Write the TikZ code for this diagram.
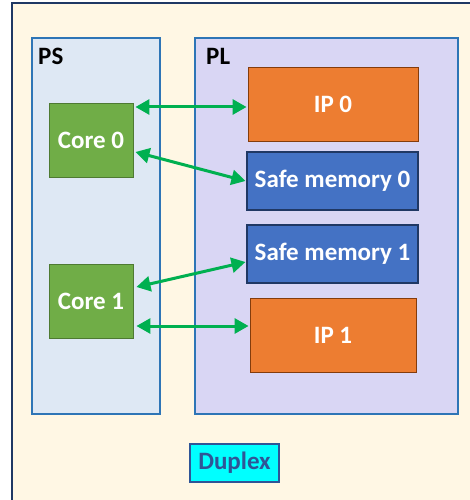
\documentclass[tikz,border=0pt]{standalone}
\usepackage{fontspec}
\setmainfont{Carlito}
\usetikzlibrary{arrows.meta}
\definecolor{bgcream}{HTML}{FFF7E4}
\definecolor{framenavy}{HTML}{1F3864}
\definecolor{psfill}{HTML}{DEE8F4}
\definecolor{plfill}{HTML}{D9D6F4}
\definecolor{boxblue}{HTML}{2E75B6}
\definecolor{coregreen}{HTML}{70AD47}
\definecolor{coreedge}{HTML}{4E7A32}
\definecolor{iporange}{HTML}{ED7D31}
\definecolor{ipedge}{HTML}{843C0C}
\definecolor{smblue}{HTML}{4472C4}
\definecolor{smedge}{HTML}{203864}
\definecolor{arrgreen}{HTML}{00B050}
\definecolor{dupedge}{HTML}{2F5597}
\definecolor{dupfill}{HTML}{00FFFF}
\tikzset{
  every node/.style={font=\bfseries\fontsize{25}{30}\selectfont, inner sep=0pt},
  region/.style={draw=boxblue, line width=1.6pt},
  corebox/.style={fill=coregreen, draw=coreedge, line width=0.9pt, text=white, minimum width=84pt, minimum height=74pt},
  ipbox/.style={fill=iporange, draw=ipedge, line width=0.9pt, text=white, minimum height=74pt},
  smbox/.style={fill=smblue, draw=smedge, line width=1.1pt, text=white, minimum width=171pt, minimum height=58pt},
  arr/.style={draw=arrgreen, line width=3pt, {Triangle[length=14pt,width=15pt]}-{Triangle[length=14pt,width=15pt]}},
}
\begin{document}
\begin{tikzpicture}[x=1pt,y=-1pt]
\useasboundingbox (0,0) rectangle (469,500);
\fill[white] (0,0) rectangle (469,500);
\draw[fill=bgcream, draw=framenavy, line width=1.8pt] (12,3) rectangle (480,510);
\node[region, fill=psfill, minimum width=128pt, minimum height=376pt] (ps) at (96,226) {};
\node[region, fill=plfill, minimum width=263pt, minimum height=376pt] (pl) at (326.5,226) {};
\node[anchor=base west] (pslabel) at (38,65) {PS};
\node[anchor=base west] (pllabel) at (206,65) {PL};
\node[corebox] (c0) at (91,140) {Core 0};
\node[corebox] (c1) at (91,301) {Core 1};
\node[ipbox, minimum width=170pt] (ip0) at (333,104) {IP 0};
\node[smbox] (sm0) at (332.5,181) {Safe memory 0};
\node[smbox] (sm1) at (332.5,254) {Safe memory 1};
\node[ipbox, minimum width=166pt] (ip1) at (333,335) {IP 1};
\node[fill=dupfill, draw=dupedge, line width=1.6pt, text=dupedge, minimum width=89pt, minimum height=38pt] (dup) at (234.5,463) {Duplex};
\draw[arr] ([xshift=2pt,yshift=-3pt]c0.east |- ip0.west) coordinate (a1) -- ([xshift=-1pt]ip0.west |- a1);
\draw[arr] ([xshift=2pt,yshift=-12pt]c0.east) -- ([xshift=-1pt]sm0.west);
\draw[arr] ([xshift=3pt,yshift=14pt]c1.east) -- ([xshift=-1pt,yshift=-8pt]sm1.west);
\draw[arr] ([xshift=3pt,yshift=-25pt]c1.east) coordinate (a4) -- ([xshift=-1pt]ip1.west |- a4);
\end{tikzpicture}
\end{document}
